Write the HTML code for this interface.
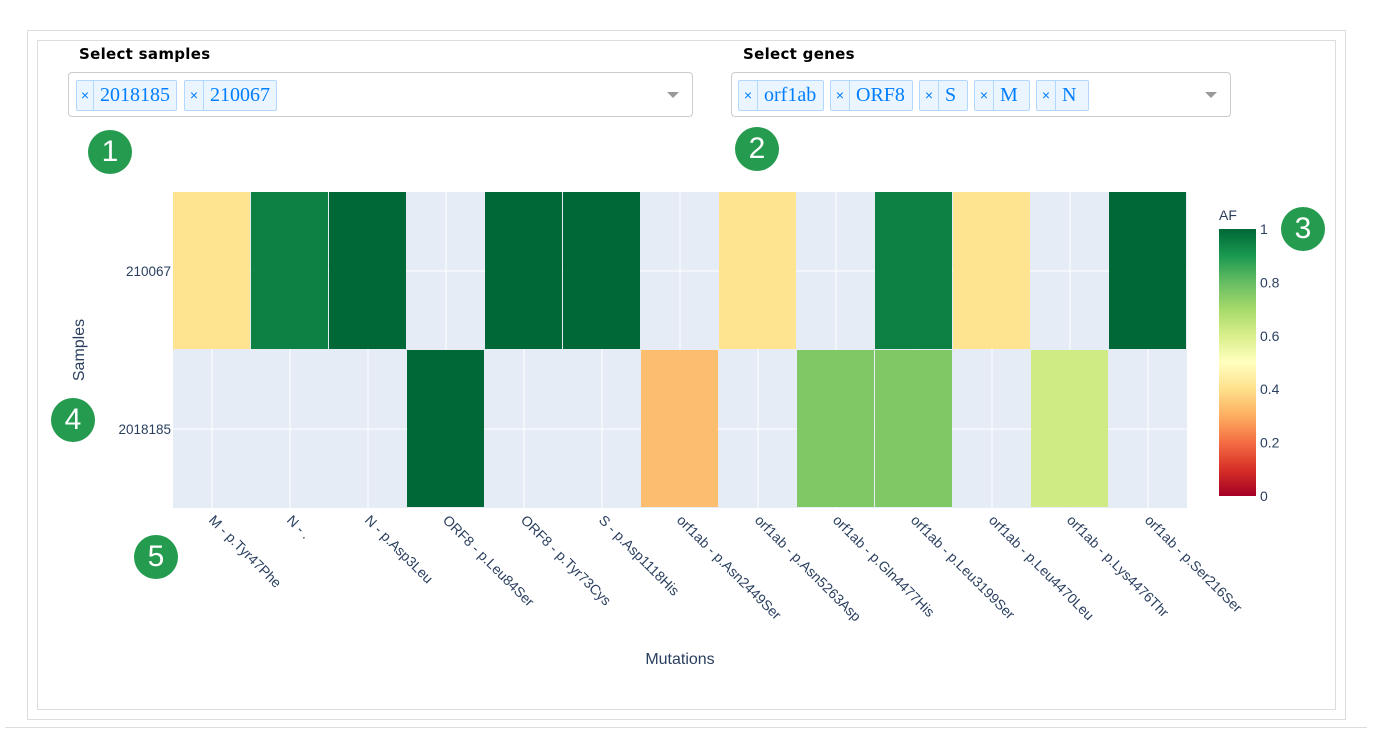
<!DOCTYPE html>
<html><head><meta charset="utf-8"><style>
body{margin:0;width:1373px;height:732px;background:#fff;position:relative;overflow:hidden;font-family:"Liberation Sans",sans-serif}
svg text{font-family:"Liberation Sans",sans-serif}
.abs{position:absolute}
.lbl{font-family:"DejaVu Sans",sans-serif;font-weight:bold;font-size:15px;color:#000;letter-spacing:0.3px}
.dd{border:1px solid #ccc;border-radius:4px;height:45px;box-sizing:border-box;background:#fff}
.tag{position:absolute;top:7px;height:31px;box-sizing:border-box;border:1px solid #b3d8ff;border-radius:2px;background:#ebf5ff;color:#007eff;display:flex;font-family:"Liberation Serif",serif;font-size:20px;line-height:29px}
.tag .x{width:18px;border-right:1px solid #b3d8ff;text-align:center;font-family:"Liberation Sans",sans-serif;font-size:14px}
.tag .t{padding:0 6px}
.arrow{position:absolute;right:13px;top:19px;width:0;height:0;border-left:6px solid transparent;border-right:6px solid transparent;border-top:6px solid #999}
.num{position:absolute;width:44px;height:44px;border-radius:50%;background:#259b4f;color:#fff;font-size:30px;text-align:center;line-height:44px}
</style></head><body>
<div class="abs" style="left:27px;top:30px;width:1319px;height:690px;border:1px solid #ddd;box-sizing:border-box"></div>
<div class="abs" style="left:37px;top:40px;width:1299px;height:670px;border:1px solid #ddd;box-sizing:border-box"></div>
<div class="abs" style="left:5px;top:727px;width:1362px;height:1px;background:#ddd"></div>

<div class="abs lbl" style="left:79px;top:45px">Select samples</div>
<div class="abs dd" style="left:68px;top:72px;width:625px">
 <div class="tag" style="left:7px;width:101px"><span class="x">×</span><span class="t">2018185</span></div>
 <div class="tag" style="left:115px;width:93px"><span class="x">×</span><span class="t">210067</span></div>
 <div class="arrow"></div>
</div>
<div class="abs lbl" style="left:743px;top:45px">Select genes</div>
<div class="abs dd" style="left:731px;top:72px;width:500px">
 <div class="tag" style="left:6px;width:86px"><span class="x">×</span><span class="t">orf1ab</span></div>
 <div class="tag" style="left:98px;width:83px"><span class="x">×</span><span class="t">ORF8</span></div>
 <div class="tag" style="left:187px;width:49px"><span class="x">×</span><span class="t">S</span></div>
 <div class="tag" style="left:242px;width:56px"><span class="x">×</span><span class="t">M</span></div>
 <div class="tag" style="left:304px;width:53px"><span class="x">×</span><span class="t">N</span></div>
 <div class="arrow"></div>
</div>

<svg class="abs" style="left:0;top:0" width="1373" height="732" id="chart">
<defs><linearGradient id="cs" x1="0" y1="1" x2="0" y2="0">
<stop offset="0" stop-color="rgb(165,0,38)"/><stop offset="0.1" stop-color="rgb(215,48,39)"/><stop offset="0.2" stop-color="rgb(244,109,67)"/><stop offset="0.3" stop-color="rgb(253,174,97)"/><stop offset="0.4" stop-color="rgb(254,224,139)"/><stop offset="0.5" stop-color="rgb(255,255,191)"/><stop offset="0.6" stop-color="rgb(217,239,139)"/><stop offset="0.7" stop-color="rgb(166,217,106)"/><stop offset="0.8" stop-color="rgb(102,189,99)"/><stop offset="0.9" stop-color="rgb(26,152,80)"/><stop offset="1" stop-color="rgb(0,104,55)"/>
</linearGradient></defs>
</svg>

<div class="num" style="left:88px;top:130px">1</div>
<div class="num" style="left:735px;top:127px">2</div>
<div class="num" style="left:1281px;top:207px">3</div>
<div class="num" style="left:51px;top:398px">4</div>
<div class="num" style="left:134px;top:535px">5</div>

<script>
const mutations=["M - p.Tyr47Phe","N - .","N - p.Asp3Leu","ORF8 - p.Leu84Ser","ORF8 - p.Tyr73Cys","S - p.Asp1118His","orf1ab - p.Asn2449Ser","orf1ab - p.Asn5263Asp","orf1ab - p.Gln4477His","orf1ab - p.Leu3199Ser","orf1ab - p.Leu4470Leu","orf1ab - p.Lys4476Thr","orf1ab - p.Ser216Ser"];
const samples=["210067","2018185"];
const af210067=[0.41,0.95,1,null,1,1,null,0.41,null,0.95,0.41,null,1];
const af2018185=[null,null,null,1,null,null,0.33,null,0.76,0.76,null,0.62,null];
const cbTicks=[0,0.2,0.4,0.6,0.8,1];
const NS="http://www.w3.org/2000/svg";
const svg=document.getElementById('chart');
const X0=173,X1=1187,Y0=192,Y1=508;
const cw=(X1-X0)/mutations.length, rh=(Y1-Y0)/samples.length;
const xc=i=>X0+cw*(i+0.5), yTop=j=>Y0+rh*j;
const stops=[[165,0,38],[215,48,39],[244,109,67],[253,174,97],[254,224,139],[255,255,191],[217,239,139],[166,217,106],[102,189,99],[26,152,80],[0,104,55]];
function color(v){const t=Math.max(0,Math.min(1,v))*10;const i=Math.min(9,Math.floor(t)),f=t-i;const a=stops[i],b=stops[i+1];return `rgb(${a.map((c,k)=>Math.round(c+(b[k]-c)*f)).join(',')})`;}
function el(tag,attrs,parent){const e=document.createElementNS(NS,tag);for(const k in attrs)e.setAttribute(k,attrs[k]);(parent||svg).appendChild(e);return e;}
let e=el('rect',{x:X0,y:Y0,width:X1-X0,height:Y1-Y0,fill:'#e5ecf6'});


mutations.forEach((m,i)=>{e=el('line',{x1:xc(i),x2:xc(i),y1:Y0,y2:Y1,stroke:'#fff','stroke-width':1});

});
samples.forEach((s,j)=>{e=el('line',{x1:X0,x2:X1,y1:yTop(j)+rh/2,y2:yTop(j)+rh/2,stroke:'#fff','stroke-width':1});

});
const rows=[af210067,af2018185];
rows.forEach((row,j)=>row.forEach((v,i)=>{if(v===null)return;
e=el('rect',{x:X0+cw*i,y:yTop(j),width:cw-1,height:rh-1,fill:color(v)});

}));
samples.forEach((s,j)=>{e=el('text',{x:X0-2,y:yTop(j)+rh/2+5,'text-anchor':'end','font-size':13.5,fill:'#2a3f5f'});e.textContent=s;

});
mutations.forEach((m,i)=>{const x=xc(i)-4,y=521;e=el('text',{x:x,y:y,transform:`rotate(45 ${x} ${y})`,'font-size':14,fill:'#2a3f5f'});e.textContent=m;

});
e=el('text',{x:680,y:664,'text-anchor':'middle','font-size':16,fill:'#2a3f5f'});e.textContent='Mutations';


e=el('text',{x:84,y:350,'text-anchor':'middle','font-size':16,fill:'#2a3f5f',transform:'rotate(-90 84 350)'});e.textContent='Samples';


const CX=1219,CW=37,CY0=496,CY1=229;
e=el('rect',{x:CX,y:CY1,width:CW,height:CY0-CY1,fill:'url(#cs)'});


cbTicks.forEach(t=>{const y=CY0+(CY1-CY0)*t;e=el('text',{x:CX+CW+4,y:y+5,'font-size':14,fill:'#2a3f5f'});e.textContent=String(t);

});
e=el('text',{x:1219,y:220,'font-size':14,fill:'#2a3f5f'});e.textContent='AF';


</script>
</body></html>
